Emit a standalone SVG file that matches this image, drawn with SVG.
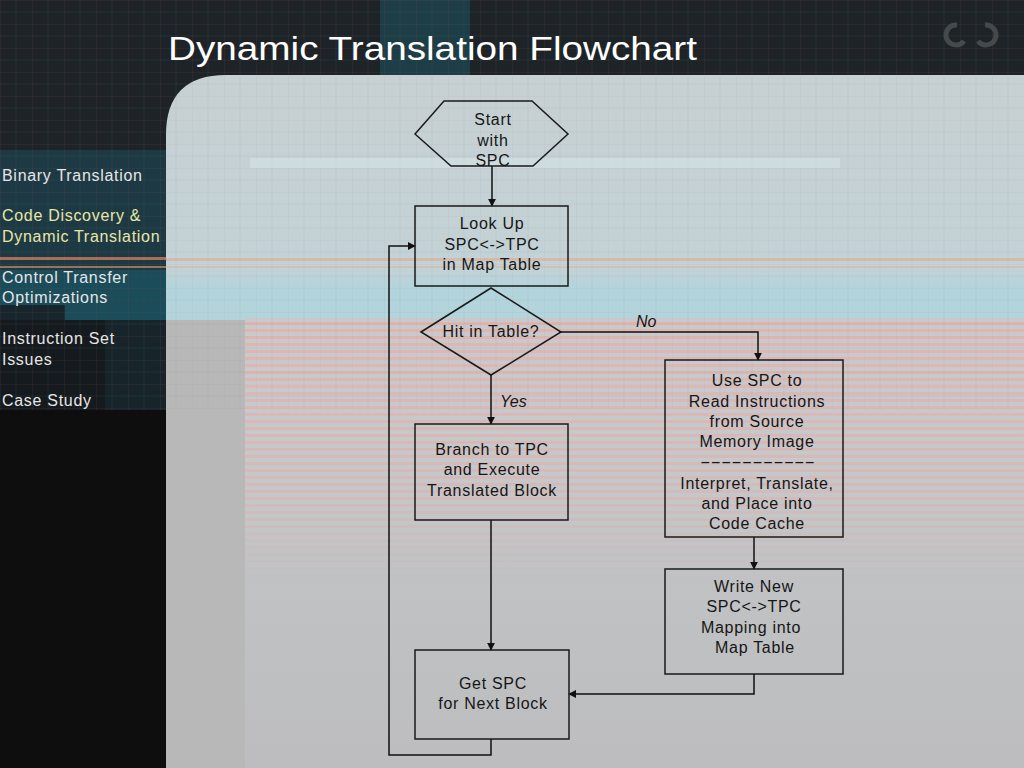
<svg xmlns="http://www.w3.org/2000/svg" width="1024" height="768" viewBox="0 0 1024 768">
<defs>
<style>
.nb{fill:none;stroke:#1a1a1a;stroke-width:1.5}
.t{font-family:"Liberation Sans",Arial,sans-serif;font-size:16px;fill:#161616;text-anchor:middle;letter-spacing:0.7px}
.lbl{font-family:"Liberation Sans",Arial,sans-serif;font-size:16px;font-style:italic;fill:#161616}
.side{font-family:"Liberation Sans",Arial,sans-serif;font-size:16px;fill:#e6e6e6;letter-spacing:0.7px}
.cn{fill:none;stroke:#111;stroke-width:1.5;marker-end:url(#ah)}
</style>
<marker id="ah" viewBox="0 0 10 10" refX="9" refY="5" markerWidth="8" markerHeight="8" orient="auto" markerUnits="userSpaceOnUse">
<path d="M0,0 L10,5 L0,10 z" fill="#111"/>
</marker>
<pattern id="grid" width="32" height="24" patternUnits="userSpaceOnUse">
<path d="M0,0 H32 M0,0 V24" stroke="#7a4a4a" stroke-width="0.6" opacity="0.5" fill="none"/>
<path d="M16,0 V24 M0,12 H32" stroke="#3a4a50" stroke-width="0.5" opacity="0.5" fill="none"/>
</pattern>
<pattern id="stripes" width="8" height="7" patternUnits="userSpaceOnUse">
<rect width="8" height="7" fill="#c9c9cc"/>
<rect y="0" width="8" height="3" fill="#e0b4b0"/>
</pattern>
<linearGradient id="panelV" x1="0" y1="0" x2="0" y2="1">
<stop offset="0" stop-color="#c7d0d3"/>
<stop offset="0.28" stop-color="#c3d2d6"/>
<stop offset="0.31" stop-color="#b2d4dc"/>
<stop offset="0.36" stop-color="#b4d4da"/>
<stop offset="0.38" stop-color="#c4c8ca"/>
<stop offset="1" stop-color="#bdbdbf"/>
</linearGradient>
<linearGradient id="pinkFade" x1="0" y1="0" x2="0" y2="1">
<stop offset="0" stop-color="#fff" stop-opacity="1"/>
<stop offset="0.6" stop-color="#fff" stop-opacity="0.6"/>
<stop offset="1" stop-color="#fff" stop-opacity="0"/>
</linearGradient>
<mask id="pm">
<rect x="245" y="318" width="779" height="270" fill="url(#pinkFade)"/>
</mask>
</defs>

<!-- background -->
<rect width="1024" height="768" fill="#1d2327"/>
<rect x="380" y="0" width="90" height="75" fill="#1f4550" opacity="0.8"/>
<rect x="0" y="150" width="166" height="120" fill="#1d3a44"/>
<rect x="0" y="270" width="166" height="50" fill="#1b4c5a"/>
<rect x="0" y="305" width="65" height="15" fill="#16262c"/>
<rect x="0" y="320" width="166" height="90" fill="#141a1d"/>
<rect x="105" y="320" width="61" height="90" fill="#172429"/>
<rect x="0" y="410" width="166" height="358" fill="#0e0e0e"/>
<rect x="0" y="0" width="1024" height="410" fill="url(#grid)"/>
<rect x="0" y="257" width="166" height="3" fill="#d07a5a" opacity="0.8"/>
<rect x="0" y="266" width="166" height="2" fill="#d08a6a" opacity="0.7"/>

<!-- panel -->
<path d="M166,768 V135 Q166,75 226,75 H1024 V768 Z" fill="url(#panelV)"/>
<rect x="245" y="318" width="779" height="270" fill="url(#stripes)" mask="url(#pm)"/>
<rect x="166" y="320" width="79" height="448" fill="#b8b8b8"/>
<rect x="166" y="75" width="858" height="335" fill="url(#grid)" opacity="0.25"/>
<rect x="250" y="158" width="590" height="10" fill="#d6e2e6" opacity="0.6"/>
<rect x="166" y="258" width="858" height="3" fill="#e0a890" opacity="0.6"/>
<rect x="166" y="266" width="858" height="2" fill="#e0b098" opacity="0.5"/>

<!-- title -->
<text x="168" y="60" font-family="'Liberation Sans',Arial,sans-serif" font-size="34" fill="#ffffff" textLength="529" lengthAdjust="spacingAndGlyphs">Dynamic Translation Flowchart</text>

<!-- corner icon -->
<g fill="none" stroke="#4a4e50" stroke-width="5" opacity="0.9">
<path d="M957,25 A10,10 0 1 0 964,41"/>
<path d="M985,25 A10,10 0 1 1 978,41"/>
</g>

<!-- sidebar -->
<g id="sidebar">
<text class="side" x="2" y="181">Binary Translation</text>
<text class="side" x="2" y="221" style="fill:#e8e6a8">Code Discovery &amp;</text>
<text class="side" x="2" y="242" style="fill:#e8e6a8">Dynamic Translation</text>
<text class="side" x="2" y="283">Control Transfer</text>
<text class="side" x="2" y="303">Optimizations</text>
<text class="side" x="2" y="344">Instruction Set</text>
<text class="side" x="2" y="365">Issues</text>
<text class="side" x="2" y="406">Case Study</text>
</g>

<!-- connectors -->
<g id="connectors">
<path class="cn" d="M492,166 V206"/>
<path class="cn" d="M561,332 H758 V360"/>
<path class="cn" d="M491,375 V424"/>
<path class="cn" d="M491,520 V650"/>
<path class="cn" d="M754,537 V569"/>
<path class="cn" d="M754,674 V694 H569"/>
<path class="cn" d="M491,739 V755 H389 V246 H415"/>
<text class="lbl" x="636" y="327">No</text>
<text class="lbl" x="500" y="407">Yes</text>
</g>

<!-- nodes -->
<g id="start">
<polygon class="nb" points="415,134 444,101 532,101 568,134 533,166 451,166"/>
<text class="t" x="493" y="125">Start</text>
<text class="t" x="493" y="146">with</text>
<text class="t" x="493" y="166">SPC</text>
</g>
<g id="lookup">
<rect class="nb" x="415" y="206" width="153" height="80"/>
<text class="t" x="492" y="229">Look Up</text>
<text class="t" x="492" y="250">SPC&lt;-&gt;TPC</text>
<text class="t" x="492" y="270">in Map Table</text>
</g>
<g id="hit">
<polygon class="nb" points="421,332 491,288 561,332 491,375"/>
<text class="t" x="491" y="337">Hit in Table?</text>
</g>
<g id="branch">
<rect class="nb" x="415" y="424" width="153" height="96"/>
<text class="t" x="492" y="455">Branch to TPC</text>
<text class="t" x="492" y="475">and Execute</text>
<text class="t" x="492" y="496">Translated Block</text>
</g>
<g id="interpret">
<rect class="nb" x="665" y="360" width="178" height="177"/>
<text class="t" x="757" y="386">Use SPC to</text>
<text class="t" x="757" y="407">Read Instructions</text>
<text class="t" x="757" y="427">from Source</text>
<text class="t" x="757" y="447">Memory Image</text>
<text x="700" y="467" font-family="'Liberation Sans',Arial,sans-serif" font-size="16" fill="#161616" textLength="115" lengthAdjust="spacingAndGlyphs">-----------</text>
<text class="t" x="757" y="489">Interpret, Translate,</text>
<text class="t" x="757" y="509">and Place into</text>
<text class="t" x="757" y="529">Code Cache</text>
</g>
<g id="write">
<rect class="nb" x="665" y="569" width="178" height="105"/>
<text class="t" x="754" y="592">Write New</text>
<text class="t" x="754" y="612">SPC&lt;-&gt;TPC</text>
<text class="t" x="751" y="633">Mapping into</text>
<text class="t" x="755" y="653">Map Table</text>
</g>
<g id="getspc">
<rect class="nb" x="415" y="650" width="154" height="89"/>
<text class="t" x="493" y="689">Get SPC</text>
<text class="t" x="493" y="709">for Next Block</text>
</g>
</svg>
